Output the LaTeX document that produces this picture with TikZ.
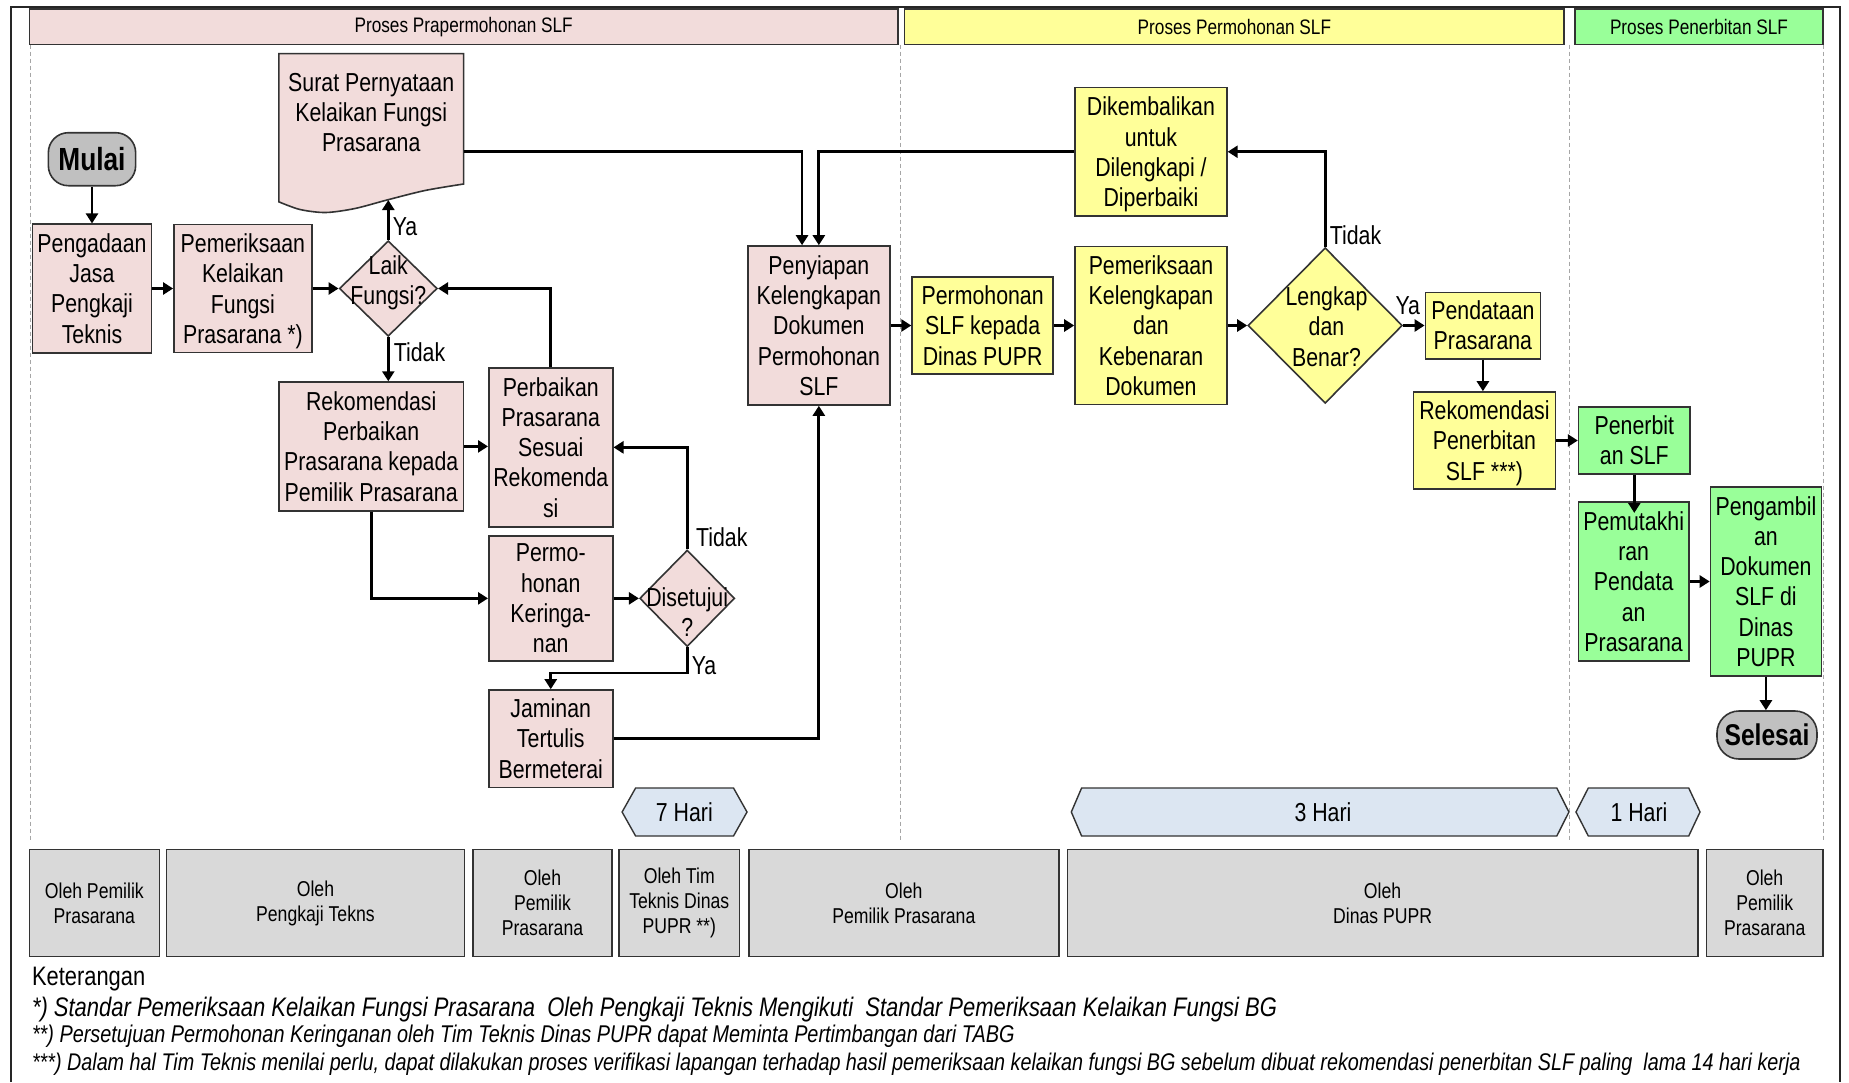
\documentclass[tikz,border=0pt]{standalone}
\usepackage{fontspec}
\setmainfont{Liberation Sans}[FakeStretch=0.82]
\usetikzlibrary{arrows.meta,shapes.geometric}
\definecolor{cpink}{HTML}{F2DCDB}
\definecolor{cyellow}{HTML}{FFFF99}
\definecolor{cgreen}{HTML}{99FF99}
\definecolor{cgray}{HTML}{C0C0C0}
\definecolor{cgrayl}{HTML}{D9D9D9}
\definecolor{cblue}{HTML}{DCE6F2}
\definecolor{cedge}{HTML}{333333}
\tikzset{
  box/.style={draw=cedge, line width=1.6pt, inner sep=0pt, align=center, font=\fontsize{26}{30.3}\selectfont},
  pinkbox/.style={box, fill=cpink},
  ybox/.style={box, fill=cyellow},
  gbox/.style={box, fill=cgreen},
  dia/.style={draw=cedge, line width=1.6pt, shape=diamond, inner sep=0pt},
  lbl/.style={font=\fontsize{26}{30.3}\selectfont, inner sep=0pt, align=center},
  arr/.style={line width=2.8pt, -{Triangle[length=10pt,width=12pt]}},
  hdr/.style={draw=cedge, line width=1.2pt, inner sep=0pt, font=\fontsize{21}{24}\selectfont},
  who/.style={draw=cedge, fill=cgrayl, line width=1.4pt, align=center, inner sep=0pt, font=\fontsize{21.5}{24.8}\selectfont},
  lane/.style={draw=gray!70, line width=0.8pt, dash pattern=on 4pt off 3pt},
  hexa/.style={draw=cedge, fill=cblue, line width=1.4pt},
  term/.style={draw=cedge, fill=cgray, line width=1.6pt, rounded corners=20pt, inner sep=0pt, font=\bfseries\fontsize{32}{36}\selectfont},
  note/.style={anchor=west, inner sep=0pt}
}
\begin{document}
\begin{tikzpicture}[x=1pt,y=-1pt]
\useasboundingbox (0,0) rectangle (1849,1082);
\fill[white] (0,0) rectangle (1849,1082);
% frame
\draw[line width=2.2pt, black!85] (10.6,1082) -- (10.6,7) -- (1840,7) -- (1840,1082);
% lane separators
\draw[lane] (30.5,44.6) -- (30.5,842);
\draw[lane] (900.8,44.6) -- (900.8,842);
\draw[lane] (1569,44.6) -- (1569,842);
\draw[lane] (1823,44.6) -- (1823,842);
% headers
\node[hdr, fill=cpink, minimum width=868.7pt, minimum height=35.6pt] (h1) at (463.65,26.8) {Proses Prapermohonan SLF};
\node[hdr, fill=cyellow, minimum width=659.2pt, minimum height=35.6pt] (h2) at (1234.4,26.8) {Proses Permohonan SLF};
\node[hdr, fill=cgreen, minimum width=248pt, minimum height=35.6pt] (h3) at (1699,26.8) {Proses Penerbitan SLF};

% document shape
\draw[line width=1.6pt, draw=cedge, fill=cpink] (278.8,53.6) -- (463.6,53.6) -- plot[smooth] coordinates {(463.6,184) (425,190.5) (387,200) (355,208.5) (325.7,212.5) (300,209.5) (278.8,201.8)} -- cycle;
\node[lbl] (surat) at (371.2,112.5) {Surat Pernyataan\\Kelaikan Fungsi\\Prasarana};
\coordinate (suratR) at (463.6,151.8);
\coordinate (suratB) at (388.3,200);

% nodes
\node[term, minimum width=87.3pt, minimum height=53pt] (mulai) at (92,159.2) {Mulai};
\node[pinkbox, minimum width=119.1pt, minimum height=128.5pt] (peng) at (92,288.5) {Pengadaan\\Jasa\\Pengkaji\\Teknis};
\node[pinkbox, minimum width=138pt, minimum height=128pt, text depth=0pt] (periksa) at (242.9,288.5) {Pemeriksaan\\Kelaikan\\Fungsi\\Prasarana *)};
\node[dia, fill=cpink, minimum width=97.9pt, minimum height=95.5pt] (laik) at (388.3,288.5) {};
\node[lbl] (laikt) at (388.3,283) {Laik\\Fungsi?};
\node[pinkbox, minimum width=184.8pt, minimum height=128.7pt] (rek) at (371.2,446.4) {Rekomendasi\\Perbaikan\\Prasarana kepada\\Pemilik Prasarana};
\node[pinkbox, minimum width=123.9pt, minimum height=158.9pt] (perb) at (550.75,447.35) {Perbaikan\\Prasarana\\Sesuai\\Rekomenda\\si};
\node[pinkbox, minimum width=123.9pt, minimum height=125.3pt] (permo) at (550.75,598.35) {Permo-\\honan\\Keringa-\\nan};
\node[dia, fill=cpink, minimum width=95pt, minimum height=96.6pt] (dis) at (687.2,598.35) {};
\node[lbl] (dist) at (687.2,612) {Disetujui\\?};
\node[pinkbox, minimum width=123.9pt, minimum height=97.3pt] (jam) at (550.75,738.65) {Jaminan\\Tertulis\\Bermeterai};
\node[pinkbox, minimum width=141.7pt, minimum height=159pt] (peny) at (818.85,325.5) {Penyiapan\\Kelengkapan\\Dokumen\\Permohonan\\SLF};
\node[ybox, minimum width=141.1pt, minimum height=97.2pt] (mohon) at (982.65,325.5) {Permohonan\\SLF kepada\\Dinas PUPR};
\node[ybox, minimum width=151.9pt, minimum height=158.2pt] (cek) at (1150.95,325.5) {Pemeriksaan\\Kelengkapan\\dan\\Kebenaran\\Dokumen};
\node[ybox, minimum width=151.9pt, minimum height=128.5pt, text depth=0pt] (dik) at (1150.95,151.75) {Dikembalikan\\untuk\\Dilengkapi /\\Diperbaiki};
\node[dia, fill=cyellow, minimum width=154.4pt, minimum height=155.6pt] (leng) at (1325.2,325.5) {};
\node[lbl] (lengt) at (1326.5,326.6) {Lengkap\\dan\\Benar?};
\node[ybox, minimum width=115pt, minimum height=66.4pt] (pend) at (1482.9,325.5) {Pendataan\\Prasarana};
\node[ybox, minimum width=142.3pt, minimum height=97pt, text depth=0pt] (rekp) at (1484.45,440.5) {Rekomendasi\\Penerbitan\\SLF ***)};
\node[gbox, minimum width=111.4pt, minimum height=67pt] (terbit) at (1634.3,440.5) {Penerbit\\an SLF};
\node[gbox, minimum width=110.1pt, minimum height=159pt] (mutakhir) at (1633.65,581.5) {Pemutakhi\\ran\\Pendata\\an\\Prasarana};
\node[gbox, minimum width=110.8pt, minimum height=188.6pt] (ambil) at (1765.9,581.5) {Pengambil\\an\\Dokumen\\SLF di\\Dinas\\PUPR};
\node[term, minimum width=100pt, minimum height=48pt, rounded corners=22pt, font=\bfseries\fontsize{30}{34}\selectfont] (selesai) at (1767,735) {Selesai};

% labels
\node[lbl] (ya1) at (405,226.8) {Ya};
\node[lbl] (tidak1) at (419.5,351.8) {Tidak};
\node[lbl] (tidak2) at (721.8,536.7) {Tidak};
\node[lbl] (ya2) at (704,666) {Ya};
\node[lbl] (tidak3) at (1355.5,235.7) {Tidak};
\node[lbl] (ya3) at (1407.8,305.4) {Ya};

% connectors
\coordinate (disYa) at (687.2,673);
\draw[arr] (mulai.south) -- (peng.north);
\draw[arr] (peng.east) -- (periksa.west);
\draw[arr] (periksa.east) -- (laik.west);
\draw[arr] (laik.north) -- (suratB);
\draw[arr] (laik.south) -- (laik.south |- rek.north);
\draw[arr] (rek.east) -- (rek.east -| perb.west);
\draw[arr] (perb.north) |- (laik.east);
\draw[arr] (rek.south) |- (permo.west);
\draw[arr] (permo.east) -- (dis.west);
\draw[arr] (dis.north) |- (perb.east);
\draw[arr] (dis.south) -- (disYa) -| (jam.north);
\draw[arr] (jam.east) -| (peny.south);
\draw[arr] (suratR) -| ([xshift=-16.8pt]peny.north);
\draw[arr] (dik.west) -| (peny.north);
\draw[arr] (peny.east) -- (mohon.west);
\draw[arr] (mohon.east) -- (cek.west);
\draw[arr] (cek.east) -- (leng.west);
\draw[arr] (leng.east) -- (pend.west);
\draw[arr] (leng.north) |- (dik.east);
\draw[arr] (pend.south) -- (pend.south |- rekp.north);
\draw[arr] (rekp.east) -- (terbit.west);
\draw[arr, shorten >=-11.7pt] (terbit.south) -- (terbit.south |- mutakhir.north);
\draw[arr] (mutakhir.east) -- (ambil.west);
\draw[arr] (ambil.south) -- (ambil.south |- selesai.north);

% durations
\draw[hexa] (622.1,812) -- (635.6,788) -- (733.5,788) -- (747,812) -- (733.5,836) -- (635.6,836) -- cycle;
\node[lbl] (d7) at (684.4,812) {7 Hari};
\draw[hexa] (1071.3,812) -- (1081.6,788) -- (1556.8,788) -- (1568.9,812) -- (1556.8,836) -- (1081.6,836) -- cycle;
\node[lbl] (d3) at (1323,812) {3 Hari};
\draw[hexa] (1576,812) -- (1588.3,788) -- (1688.7,788) -- (1700,812) -- (1688.7,836) -- (1588.3,836) -- cycle;
\node[lbl] (d1) at (1639,812) {1 Hari};

% responsibility boxes
\node[who, minimum width=129.7pt, minimum height=107.3pt] (w1) at (94.35,903.05) {Oleh Pemilik\\Prasarana};
\node[who, minimum width=298.3pt, minimum height=107.3pt] (w2) at (315.45,903.05) {Oleh\\Pengkaji Tekns};
\node[who, minimum width=139.1pt, minimum height=107.3pt] (w3) at (542.45,903.05) {Oleh\\Pemilik\\Prasarana};
\node[who, minimum width=120.3pt, minimum height=107.3pt] (w4) at (679.25,903.05) {Oleh Tim\\Teknis Dinas\\PUPR **)};
\node[who, minimum width=310.1pt, minimum height=107.3pt] (w5) at (903.85,903.05) {Oleh\\Pemilik Prasarana};
\node[who, minimum width=630.8pt, minimum height=107.3pt] (w6) at (1382.6,903.05) {Oleh\\Dinas PUPR};
\node[who, minimum width=116.7pt, minimum height=107.3pt] (w7) at (1764.65,903.05) {Oleh\\Pemilik\\Prasarana};

% notes
\node[note, font=\fontsize{26.7}{29}\selectfont] (ket) at (31.8,979.5) {Keterangan};
\node[note, font=\itshape\fontsize{26.8}{29}\selectfont] (k1) at (31.8,1009.3) {*) Standar Pemeriksaan Kelaikan Fungsi Prasarana\ \ Oleh Pengkaji Teknis Mengikuti\ \ Standar Pemeriksaan Kelaikan Fungsi BG};
\node[note, font=\itshape\fontsize{24.2}{26}\selectfont] (k2) at (31.8,1036.5) {**) Persetujuan Permohonan Keringanan oleh Tim Teknis Dinas PUPR dapat Meminta Pertimbangan dari TABG};
\node[note, font=\itshape\fontsize{24.1}{26}\selectfont] (k3) at (31.8,1064.5) {***) Dalam hal Tim Teknis menilai perlu, dapat dilakukan proses verifikasi lapangan terhadap hasil pemeriksaan kelaikan fungsi BG sebelum dibuat rekomendasi penerbitan SLF paling\ \ lama 14 hari kerja};
\end{tikzpicture}
\end{document}
